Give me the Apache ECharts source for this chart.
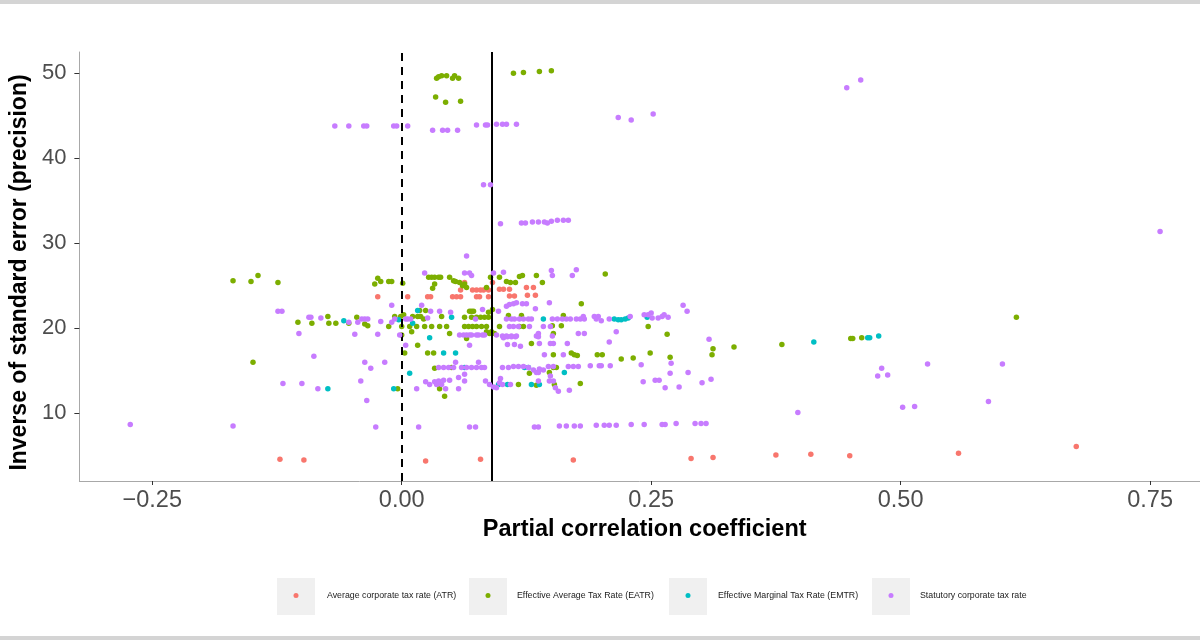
<!DOCTYPE html>
<html>
<head>
<meta charset="utf-8">
<script src="https://cdn.jsdelivr.net/npm/echarts@6/dist/echarts.min.js"></script>
<style>html,body{margin:0;padding:0;background:#fff}#c{width:1200px;height:640px}</style>
</head>
<body>
<div id="c"></div>
<script>
const seriesNames = ["Average corporate tax rate (ATR)","Effective Average Tax Rate (EATR)","Effective Marginal Tax Rate (EMTR)","Statutory corporate tax rate"];
const colors = ["#F8766D","#7CAE00","#00BFC4","#C77CFF"];
const xTicks = [-0.25, 0, 0.25, 0.5, 0.75];
const xTickLabels = ["\u22120.25","0.00","0.25","0.50","0.75"];
const yTicks = [10, 20, 30, 40, 50];
const refLines = [0, 0.094];

const atr = [[-0.122,4.6],[-0.098,4.5],[0.024,4.4],[0.079,4.6],[0.172,4.5],[0.290,4.7],[0.312,4.8],[0.375,5.1],[0.410,5.2],[0.449,5.0],[0.558,5.3],[0.676,6.1],
[-0.024,23.7],[0.006,23.7],[0.026,23.7],[0.029,23.7],[0.051,23.7],[0.055,23.7],[0.059,23.7],[0.075,23.7],[0.078,23.7],[0.087,23.7],
[0.059,24.5],[0.063,25.4],[0.071,24.5],[0.075,24.5],[0.079,24.5],[0.082,24.5],[0.087,24.5],[0.091,25.4],
[0.098,24.6],[0.102,24.6],[0.108,24.6],[0.108,23.8],[0.113,23.8],[0.125,24.8],[0.132,24.8],[0.126,23.9],[0.134,23.9]];

const eatr = [[-0.169,25.6],[-0.151,25.5],[-0.144,26.2],[-0.124,25.4],[-0.027,25.2],[-0.024,25.9],[-0.021,25.5],[-0.013,25.5],[-0.010,25.5],[0.001,25.3],
[-0.104,20.7],[-0.090,20.6],[-0.074,21.4],[-0.073,20.6],[-0.066,20.6],[-0.053,20.6],[-0.045,21.3],[-0.037,20.5],[-0.034,20.3],[-0.013,20.2],[-0.007,21.4],[-0.001,21.4],[0.002,21.6],
[-0.149,16.0],[-0.004,12.9],
[0.035,49.4],[0.037,49.6],[0.040,49.7],[0.045,49.7],[0.051,49.4],[0.053,49.7],[0.057,49.4],[0.034,47.2],[0.044,46.6],[0.059,46.7],[0.112,50.0],[0.122,50.1],[0.138,50.2],[0.150,50.3],
[0.027,26.0],[0.030,26.0],[0.033,26.0],[0.037,26.0],[0.039,26.0],[0.048,26.0],[0.052,25.6],[0.054,25.5],[0.058,25.4],[0.031,24.7],[0.033,25.2],[0.061,25.0],[0.065,24.8],[0.063,25.2],[0.085,24.8],[0.089,26.0],[0.098,26.0],[0.105,25.5],[0.109,25.4],[0.114,25.4],[0.118,26.1],[0.121,26.2],[0.135,26.2],[0.141,25.4],[0.180,22.9],[0.204,26.4],
[0.018,22.1],[0.024,22.1],[0.068,22.0],[0.070,22.0],[0.072,22.0],[0.091,22.2],[0.087,21.9],[0.107,21.5],[0.120,21.5],[0.162,21.5],
[0.011,21.4],[0.016,21.4],[0.019,21.4],[0.022,21.1],[0.040,21.4],[0.063,21.3],[0.070,21.3],[0.075,21.3],[0.079,21.3],[0.083,21.3],[0.087,21.3],
[0.000,20.2],[0.008,20.2],[0.015,20.2],[0.023,20.2],[0.030,20.2],[0.038,20.2],[0.045,20.2],[0.063,20.2],[0.067,20.2],[0.071,20.2],[0.075,20.2],[0.080,20.2],[0.085,20.2],[0.098,20.2],[0.118,20.2],[0.122,20.2],[0.151,20.3],[0.160,20.3],[0.247,20.2],
[0.048,19.4],[0.085,19.6],[0.088,19.4],[0.093,19.4],[0.152,19.4],[0.000,19.2],[0.010,19.6],[0.065,18.8],[0.090,19.6],[0.266,19.3],
[0.016,18.0],[0.130,18.2],[0.312,17.6],[0.333,17.8],[0.381,18.1],[0.450,18.8],[0.452,18.8],[0.461,18.9],[0.616,21.3],
[0.003,17.1],[0.026,17.1],[0.032,17.1],[0.152,16.9],[0.170,17.1],[0.173,16.9],[0.176,16.8],[0.196,16.9],[0.201,16.9],[0.220,16.4],[0.232,16.5],[0.249,17.1],[0.269,16.6],[0.311,16.9],
[0.033,15.3],[0.050,15.4],[0.128,14.7],[0.152,15.4],[0.155,15.4],[0.148,14.8],
[0.038,12.9],[0.043,12.0],[0.117,13.4],[0.135,13.3],[0.153,13.4],[0.179,13.5]];

const emtr = [[-0.058,20.9],[-0.003,21.0],[0.016,22.1],[0.011,20.6],[0.050,21.3],[0.028,18.9],[0.042,17.1],[0.054,17.1],[0.008,14.7],[0.063,15.4],[0.123,15.4],[0.127,15.4],[0.163,14.8],[0.097,13.4],[0.106,13.4],[0.130,13.4],[0.138,13.4],[-0.074,12.9],[-0.008,12.9],[0.142,21.1],[0.213,21.1],[0.217,21.0],[0.220,21.0],[0.224,21.1],[0.227,21.2],[0.246,21.3],[0.413,18.4],[0.467,18.9],[0.469,18.9],[0.478,19.1]];

const statutory = [[-0.067,43.8],[-0.053,43.8],[-0.038,43.8],[-0.035,43.8],[-0.008,43.8],[-0.005,43.8],[0.006,43.8],[0.031,43.3],[0.041,43.3],[0.046,43.3],[0.056,43.3],[0.075,43.9],[0.084,43.9],[0.086,43.9],[0.095,44.0],[0.101,44.0],[0.105,44.0],[0.115,44.0],[0.217,44.8],[0.230,44.5],[0.252,45.2],[0.446,48.3],[0.460,49.2],[0.082,36.9],[0.089,36.9],[0.099,32.3],[0.120,32.4],[0.124,32.4],[0.131,32.5],[0.137,32.5],[0.143,32.5],[0.146,32.4],[0.150,32.6],[0.156,32.7],[0.162,32.7],[0.167,32.7],[0.760,31.4],
[0.065,28.5],[0.023,26.5],[0.063,26.5],[0.068,26.5],[0.070,26.2],[0.092,26.5],[0.102,26.6],[0.150,26.8],[0.151,26.2],[0.171,26.2],[0.175,26.9],
[-0.010,22.7],[-0.124,22.0],[-0.120,22.0],[0.020,22.7],[0.029,22.0],[0.038,22.0],[0.049,21.9],[0.081,22.2],[0.097,22.0],[0.105,22.6],[0.108,22.8],[0.112,22.9],[0.115,23.0],[0.121,22.9],[0.125,22.9],[0.134,22.3],[0.148,23.0],[0.282,22.7],[0.286,22.0],
[-0.093,21.3],[-0.091,21.3],[-0.081,21.2],[-0.053,20.7],[-0.044,20.7],[-0.040,21.1],[-0.037,21.1],[-0.034,21.1],[-0.021,20.8],[-0.010,20.7],[-0.007,21.1],[0.004,21.1],[0.006,21.1],[0.009,21.1],[0.026,21.2],[0.074,21.1],[0.105,21.1],[0.110,21.1],[0.113,21.1],[0.118,21.1],[0.122,21.1],[0.127,21.1],[0.130,21.1],[0.151,21.1],[0.156,21.1],[0.161,21.1],[0.165,21.1],[0.169,21.1],[0.175,21.1],[0.179,21.1],[0.183,21.1],[0.182,21.4],[0.193,21.4],[0.197,21.4],[0.195,21.1],[0.200,20.9],[0.208,21.1],[0.229,21.4],[0.243,21.6],[0.247,21.6],[0.250,21.8],[0.251,21.2],[0.257,21.2],[0.261,21.4],[0.263,21.6],[0.267,21.3],
[0.108,20.2],[0.112,20.2],[0.117,20.2],[0.128,20.2],[0.142,20.2],[0.149,20.2],
[-0.103,19.4],[-0.047,19.3],[-0.024,19.3],[-0.002,19.2],[0.058,19.2],[0.062,19.2],[0.065,19.2],[0.068,19.2],[0.070,19.2],[0.075,19.2],[0.077,19.2],[0.081,19.2],[0.083,19.2],[0.095,19.2],[0.101,19.1],[0.105,19.1],[0.110,19.1],[0.115,19.1],[0.102,18.9],[0.106,19.0],[0.110,19.0],[0.114,19.0],[0.135,19.1],[0.137,19.4],[0.137,19.0],[0.151,19.1],[0.177,19.4],[0.183,19.4],[0.215,19.6],[0.208,18.4],[0.308,18.7],
[0.004,18.0],[0.068,18.0],[0.106,18.1],[0.113,18.1],[0.119,17.9],[0.138,18.2],[0.149,18.2],[0.152,18.2],[0.166,18.2],
[-0.088,16.7],[-0.037,16.0],[-0.031,15.3],[-0.017,16.0],[0.054,16.0],[0.077,16.0],[0.143,16.9],[0.162,16.9],
[0.037,15.4],[0.042,15.4],[0.047,15.4],[0.052,15.4],[0.060,15.4],[0.065,15.4],[0.070,15.4],[0.075,15.4],[0.080,15.4],[0.083,15.4],[0.101,15.4],[0.107,15.4],[0.112,15.5],[0.117,15.5],[0.122,15.5],[0.127,15.4],[0.132,15.1],[0.137,14.8],[0.142,15.1],[0.147,15.5],[0.152,15.5],[0.167,15.5],[0.172,15.5],[0.177,15.5],[0.189,15.6],[0.198,15.6],[0.200,15.6],[0.209,15.6],[0.240,15.7],[0.270,15.9],[0.138,15.2],[0.135,14.8],[0.149,14.4],[0.152,13.8],[0.269,14.7],[0.287,14.8],[0.481,15.3],[0.477,14.4],[0.487,14.5],[0.527,15.8],[0.602,15.8],
[-0.119,13.5],[-0.100,13.5],[-0.084,12.9],[-0.041,13.8],[0.024,13.7],[0.028,13.4],[0.033,13.7],[0.035,13.4],[0.037,13.8],[0.040,13.4],[0.042,13.9],[0.048,13.9],[0.057,14.2],[0.063,13.8],[0.063,14.6],[0.015,12.9],[0.044,12.9],[0.057,12.9],[0.084,13.8],[0.088,13.4],[0.092,13.1],[0.095,13.0],[0.098,13.6],[0.099,14.1],[0.101,13.4],[0.109,13.4],[0.137,13.8],[0.148,13.8],[0.154,13.0],[0.157,12.6],[0.168,12.7],[0.242,13.7],[0.254,13.9],[0.258,13.9],[0.264,13.0],[0.278,13.1],[0.301,13.6],[0.310,14.0],
[-0.035,11.5],[-0.272,8.7],[-0.169,8.5],[-0.026,8.4],[0.017,8.4],[0.068,8.4],[0.074,8.4],[0.133,8.4],[0.137,8.4],[0.158,8.5],[0.165,8.5],[0.173,8.5],[0.179,8.5],[0.195,8.6],[0.203,8.6],[0.208,8.6],[0.215,8.6],[0.230,8.7],[0.243,8.7],[0.261,8.7],[0.264,8.7],[0.275,8.8],[0.294,8.8],[0.300,8.8],[0.305,8.8],[0.397,10.1],[0.502,10.7],[0.514,10.8],[0.588,11.4]];

const allData = [atr, eatr, emtr, statutory];
const FONT = "'Liberation Sans', Arial, Helvetica, sans-serif";
const legendBoxLeft = [277, 469, 669, 872];
const legendTextLeft = [327, 517, 718, 920];

const chart = echarts.init(document.getElementById('c'), null, {renderer: 'canvas'});

const series = allData.map((d, i) => {
  const s = {
    name: seriesNames[i], type: 'scatter', data: d, symbolSize: 5.5,
    itemStyle: {color: colors[i], opacity: 1}, z: 2 + i, silent: true
  };
  if (i === 3) {
    s.markLine = {
      silent: true, symbol: 'none', label: {show: false}, animation: false,
      data: refLines.map((v, k) => ({xAxis: v, lineStyle: {color: '#000', width: 2, type: k === 0 ? [8, 6] : 'solid'}}))
    };
  }
  return s;
});

const legends = seriesNames.map((n, i) => {
  const iconLeft = legendBoxLeft[i] + 19 - 2.5;
  return {
    data: [n], left: iconLeft, top: 591, padding: 0,
    itemWidth: 5, itemHeight: 5, icon: 'circle', selectedMode: false,
    textStyle: {fontSize: 8.8, color: '#1a1a1a', fontFamily: FONT,
      padding: [0, 0, 0, legendTextLeft[i] - (iconLeft + 10)]}
  };
});

chart.setOption({
  animation: false,
  backgroundColor: '#fff',
  textStyle: {fontFamily: FONT},
  graphic: [
    {type: 'rect', left: 0, top: 0, shape: {width: 1200, height: 4}, style: {fill: '#d4d4d4'}, silent: true},
    {type: 'rect', left: 0, top: 636, shape: {width: 1200, height: 4}, style: {fill: '#d4d4d4'}, silent: true}
  ].concat(legendBoxLeft.map(l => ({type: 'rect', left: l, top: 578, shape: {width: 38, height: 37}, style: {fill: '#f0f0f0'}, silent: true, z: -1}))),
  legend: legends,
  grid: {left: 77, right: 0, top: 52, bottom: 159, containLabel: false},
  xAxis: {
    type: 'value', min: -0.323, max: 0.8,
    name: 'Partial correlation coefficient', nameLocation: 'middle', nameGap: 34,
    nameTextStyle: {fontSize: 23.5, fontWeight: 'bold', color: '#000', fontFamily: FONT, padding: [0, 0, 0, 10]},
    axisLine: {show: true, onZero: false, lineStyle: {color: '#a8a8a8', width: 1}},
    axisTick: {show: true, length: 4, lineStyle: {color: '#333'}, customValues: xTicks},
    axisLabel: {customValues: xTicks, fontSize: 23.5, color: '#4d4d4d', margin: 8, fontFamily: FONT,
      formatter: v => { const k = xTicks.findIndex(t => Math.abs(t - v) < 1e-9); return k >= 0 ? xTickLabels[k] : ''; }},
    splitLine: {show: false}
  },
  yAxis: {
    type: 'value', min: 2.04, max: 52.5,
    name: 'Inverse of standard error (precision)', nameLocation: 'middle', nameGap: 42, nameRotate: 90,
    nameTextStyle: {fontSize: 23, fontWeight: 'bold', color: '#000', fontFamily: FONT, padding: [0, 12, 0, 0]},
    axisLine: {show: true, onZero: false, lineStyle: {color: '#a8a8a8', width: 1}},
    axisTick: {show: true, length: 5, lineStyle: {color: '#333'}, customValues: yTicks},
    axisLabel: {customValues: yTicks, fontSize: 22, color: '#4d4d4d', margin: 13, fontFamily: FONT},
    splitLine: {show: false}
  },
  series: series
});
</script>
</body>
</html>
